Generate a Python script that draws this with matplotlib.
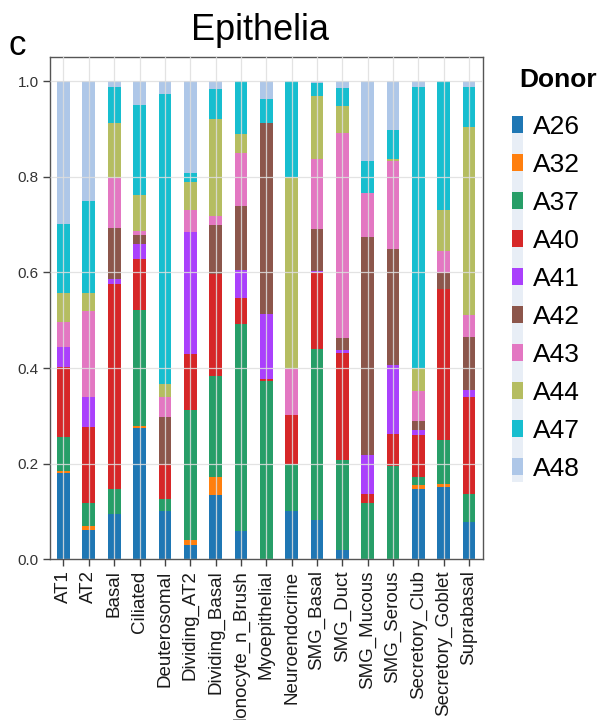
import matplotlib
matplotlib.use("Agg")
import matplotlib.pyplot as plt
from matplotlib.patches import Patch, Rectangle
import numpy as np

plt.rcParams['font.family'] = ['Liberation Sans', 'DejaVu Sans']

cell_types = ["AT1", "AT2", "Basal", "Ciliated", "Deuterosomal", "Dividing_AT2",
              "Dividing_Basal", "Ionocyte_n_Brush", "Myoepithelial", "Neuroendocrine",
              "SMG_Basal", "SMG_Duct", "SMG_Mucous", "SMG_Serous", "Secretory_Club",
              "Secretory_Goblet", "Suprabasal"]

donors = ["A26", "A32", "A37", "A40", "A41", "A42", "A43", "A44", "A47", "A48"]

# fraction of cells from each donor, per cell type (same order as cell_types)
A26 = [0.181, 0.061, 0.095, 0.274, 0.100, 0.029, 0.134, 0.059, 0.000, 0.102,
       0.083, 0.020, 0.000, 0.000, 0.148, 0.151, 0.077]
A32 = [0.004, 0.008, 0.000, 0.004, 0.000, 0.011, 0.038, 0.000, 0.000, 0.000,
       0.000, 0.000, 0.000, 0.000, 0.007, 0.007, 0.000]
A37 = [0.070, 0.048, 0.053, 0.243, 0.027, 0.273, 0.211, 0.434, 0.372, 0.098,
       0.356, 0.187, 0.118, 0.196, 0.017, 0.092, 0.060]
A40 = [0.148, 0.160, 0.428, 0.108, 0.073, 0.117, 0.213, 0.054, 0.006, 0.101,
       0.159, 0.225, 0.019, 0.066, 0.089, 0.316, 0.202]
A41 = [0.041, 0.062, 0.011, 0.031, 0.000, 0.255, 0.000, 0.059, 0.136, 0.000,
       0.005, 0.005, 0.082, 0.145, 0.009, 0.000, 0.016]
A42 = [0.000, 0.000, 0.105, 0.019, 0.097, 0.000, 0.103, 0.132, 0.399, 0.000,
       0.087, 0.026, 0.455, 0.243, 0.019, 0.033, 0.109]
A43 = [0.053, 0.180, 0.105, 0.007, 0.042, 0.045, 0.019, 0.112, 0.000, 0.098,
       0.148, 0.429, 0.093, 0.184, 0.062, 0.045, 0.046]
A44 = [0.060, 0.038, 0.115, 0.076, 0.028, 0.060, 0.202, 0.040, 0.000, 0.401,
       0.132, 0.056, 0.000, 0.004, 0.049, 0.086, 0.395]
A47 = [0.145, 0.193, 0.075, 0.188, 0.607, 0.018, 0.063, 0.110, 0.049, 0.200,
       0.027, 0.038, 0.067, 0.059, 0.587, 0.270, 0.082]
A48 = [0.298, 0.250, 0.013, 0.050, 0.026, 0.192, 0.017, 0.000, 0.038, 0.000,
       0.003, 0.014, 0.166, 0.103, 0.013, 0.000, 0.013]

series = [A26, A32, A37, A40, A41, A42, A43, A44, A47, A48]
colors = ['#1f77b4', '#ff7f0e', '#279e68', '#d62728', '#aa40fc',
          '#8c564b', '#e377c2', '#b5bd61', '#17becf', '#aec7e8']

fig = plt.figure(figsize=(6, 7.2), dpi=100)
ax = fig.add_axes([0.083, 0.2232, 0.7215, 0.6972])

x = np.arange(len(cell_types))
bottom = np.zeros(len(cell_types))
for vals, col in zip(series, colors):
    vals = np.asarray(vals)
    ax.bar(x, vals, width=0.5, bottom=bottom, color=col, linewidth=0, zorder=1)
    bottom += vals

ax.set_xlim(-0.54, len(cell_types) - 0.46)
ax.set_ylim(0, 1.05)
ax.set_xticks(x)
ax.set_xticklabels(cell_types, rotation=90, fontsize=13.5, color='#1a1a1a')
ax.set_yticks([0.0, 0.2, 0.4, 0.6, 0.8, 1.0])
ax.set_yticklabels(["0.0", "0.2", "0.4", "0.6", "0.8", "1.0"], fontsize=11, color='#333333')
ax.tick_params(axis='both', length=5, width=1, color='#444444', pad=3)

ax.set_axisbelow(False)
ax.grid(True, color='#dedede', linewidth=0.9, alpha=0.85, zorder=3)
for s in ax.spines.values():
    s.set_color('#555555')
    s.set_linewidth(1.0)

fig.text(0.433, 0.945, "Epithelia", fontsize=26, ha='center', va='baseline')
fig.text(0.014, 0.923, "c", fontsize=25, ha='left', va='baseline')

# legend title placed on its own
fig.text(0.93, 0.889, "Donor", fontsize=19, fontweight='bold', ha='center', va='center')

# pale column behind the legend keys
fig.patches.append(Rectangle((0.853, 0.331), 0.019, 0.507, transform=fig.transFigure,
                             facecolor='#e8eef6', edgecolor='none', zorder=0))

handles = [Patch(facecolor=c, edgecolor='none') for c in colors]
leg = fig.legend(handles, donors, loc='upper left', bbox_to_anchor=(0.822, 0.866),
                 frameon=False, fontsize=19,
                 handlelength=0.42, handleheight=0.64, handletextpad=0.38,
                 labelspacing=0.53, borderpad=0.2)

fig.savefig("out.png", dpi=100)
